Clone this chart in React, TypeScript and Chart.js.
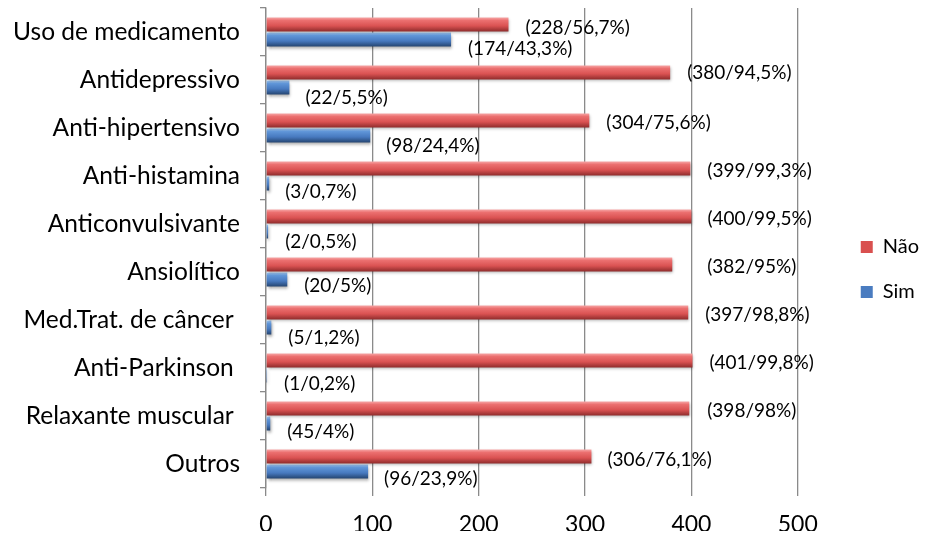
import { useEffect, useRef } from "react";
import { Chart, registerables } from "chart.js";

Chart.register(...registerables);

const categories = [
  "Uso de medicamento",
  "Antidepressivo",
  "Anti-hipertensivo",
  "Anti-histamina",
  "Anticonvulsivante",
  "Ansiolítico",
  "Med.Trat. de câncer ",
  "Anti-Parkinson ",
  "Relaxante muscular ",
  "Outros",
];
const naoValues = [228, 380, 304, 399, 400, 382, 397, 401, 398, 306];
const simValues = [174, 22, 98, 3, 2, 20, 5, 1, 4, 96];
const naoLabels = [
  "(228/56,7%)",
  "(380/94,5%)",
  "(304/75,6%)",
  "(399/99,3%)",
  "(400/99,5%)",
  "(382/95%)",
  "(397/98,8%)",
  "(401/99,8%)",
  "(398/98%)",
  "(306/76,1%)",
];
const simLabels = [
  "(174/43,3%)",
  "(22/5,5%)",
  "(98/24,4%)",
  "(3/0,7%)",
  "(2/0,5%)",
  "(20/5%)",
  "(5/1,2%)",
  "(1/0,2%)",
  "(45/4%)",
  "(96/23,9%)",
];
const xTicks = [0, 100, 200, 300, 400, 500];
const legendColors = ["#D9504F", "#4A7CC0"];

// label placement offsets (pixels) relative to bar end: [dx, dy]
const naoLabelOffsets = [
  [17, 3], [17, 0], [17, 2], [17, 2], [16, 2], [35, 2], [17, 2], [17, 2], [18, 2], [16, 3],
];
const simLabelOffsets = [
  [17, 9], [16, 10], [16, 10], [16, 8], [17, 10], [17, 6], [17, 10], [17, 8], [17, 8], [16, 7],
];

const CAT_PCT = 0.63;
const BAR_PCT = 0.93;
const FONT = "Lato, 'Noto Sans', sans-serif";

const redStops: [number, string][] = [
  [0, "#F7A8A8"],
  [0.22, "#EB6F6F"],
  [0.6, "#DA5252"],
  [1, "#8F2C2C"],
];
const blueStops: [number, string][] = [
  [0, "#9FC6F0"],
  [0.22, "#5F95D8"],
  [0.6, "#4779BF"],
  [1, "#24446F"],
];

function barFill(stops: [number, string][], solid: string) {
  return (ctx: any) => {
    if (ctx.type !== "data") return solid;
    const chart = ctx.chart;
    const y = chart.scales && chart.scales.y;
    if (!y || !chart.chartArea) return solid;
    const band = (y.bottom - y.top) / categories.length;
    const slot = (band * CAT_PCT) / 2;
    const size = slot * BAR_PCT;
    const c = y.getPixelForValue(ctx.dataIndex) + (ctx.datasetIndex === 0 ? -slot / 2 : slot / 2);
    if (!isFinite(c)) return solid;
    const g = chart.ctx.createLinearGradient(0, c - size / 2, 0, c + size / 2);
    stops.forEach(([o, col]) => g.addColorStop(o, col));
    return g;
  };
}

const labelPlugin = {
  id: "barLabels",
  beforeDatasetsDraw(chart: any) {
    const c = chart.ctx;
    c.save();
    c.shadowColor = "rgba(0,0,0,0.35)";
    c.shadowBlur = 3;
    c.shadowOffsetX = 1;
    c.shadowOffsetY = 2;
  },
  afterDatasetsDraw(chart: any) {
    const c = chart.ctx;
    c.restore();
    c.save();
    c.font = `19px ${FONT}`;
    c.fillStyle = "#000";
    c.textAlign = "left";
    c.textBaseline = "middle";
    chart.data.datasets.forEach((ds: any, di: number) => {
      const meta = chart.getDatasetMeta(di);
      const texts = di === 0 ? naoLabels : simLabels;
      const offs = di === 0 ? naoLabelOffsets : simLabelOffsets;
      meta.data.forEach((el: any, i: number) => {
        c.fillText(texts[i], el.x + offs[i][0], el.y + offs[i][1]);
      });
    });
    c.restore();
  },
};

export default function App() {
  const ref = useRef<HTMLCanvasElement | null>(null);
  useEffect(() => {
    document.body.style.margin = "0";
    document.body.style.overflow = "hidden";
    if (!ref.current) return;
    const chart = new Chart(ref.current, {
      type: "bar",
      data: {
        labels: categories,
        datasets: [
          {
            label: "Não",
            data: naoValues,
            backgroundColor: barFill(redStops, legendColors[0]),
            borderWidth: 0,
            categoryPercentage: CAT_PCT,
            barPercentage: BAR_PCT,
          },
          {
            label: "Sim",
            data: simValues,
            backgroundColor: barFill(blueStops, legendColors[1]),
            borderWidth: 0,
            categoryPercentage: CAT_PCT,
            barPercentage: BAR_PCT,
          },
        ],
      },
      options: {
        indexAxis: "y",
        responsive: false,
        animation: false,
        layout: { padding: { top: 8, right: 0, bottom: 6, left: 0 } },
        plugins: {
          tooltip: { enabled: false },
          legend: {
            position: "right",
            labels: {
              boxWidth: 12,
              boxHeight: 12,
              padding: 25,
              color: "#000",
              font: { family: FONT, size: 20 },
              generateLabels: (chart: any) =>
                Chart.defaults.plugins.legend.labels
                  .generateLabels(chart)
                  .map((l: any, i: number) => ({
                    ...l,
                    fillStyle: legendColors[i],
                    strokeStyle: legendColors[i],
                    lineWidth: 0,
                  })),
            },
          },
        },
        scales: {
          x: {
            type: "linear",
            min: 0,
            max: 500,
            afterBuildTicks: (s: any) => {
              s.ticks = xTicks.map((v) => ({ value: v }));
            },
            grid: { color: "#8A8A8A", lineWidth: 1.3, tickLength: 8 },
            border: { display: false },
            ticks: { color: "#000", font: { family: FONT, size: 23 }, padding: 15 },
            afterFit: (s: any) => {
              s.height = 43;
            },
          },
          y: {
            type: "category",
            grid: {
              drawOnChartArea: false,
              drawTicks: true,
              tickLength: 6,
              color: "#8A8A8A",
              lineWidth: 1.3,
              offset: true,
            },
            border: { display: true, color: "#8A8A8A", width: 1.3 },
            ticks: { color: "#000", font: { family: FONT, size: 24.5 }, padding: 20 },
            afterFit: (s: any) => {
              s.width = 266;
              s.paddingTop = 0;
              s.paddingBottom = 0;
            },
          },
          spacer: {
            type: "linear",
            position: "right",
            display: true,
            grid: { display: false },
            border: { display: false },
            ticks: { display: false },
            afterFit: (s: any) => {
              s.width = 38;
              s.paddingTop = 0;
              s.paddingBottom = 0;
            },
          },
        },
      },
      plugins: [labelPlugin],
    } as any);
    return () => chart.destroy();
  }, []);
  return (
    <div style={{ width: 929, height: 537, position: "relative" }}>
      <canvas ref={ref} width={929} height={537} />
    </div>
  );
}
